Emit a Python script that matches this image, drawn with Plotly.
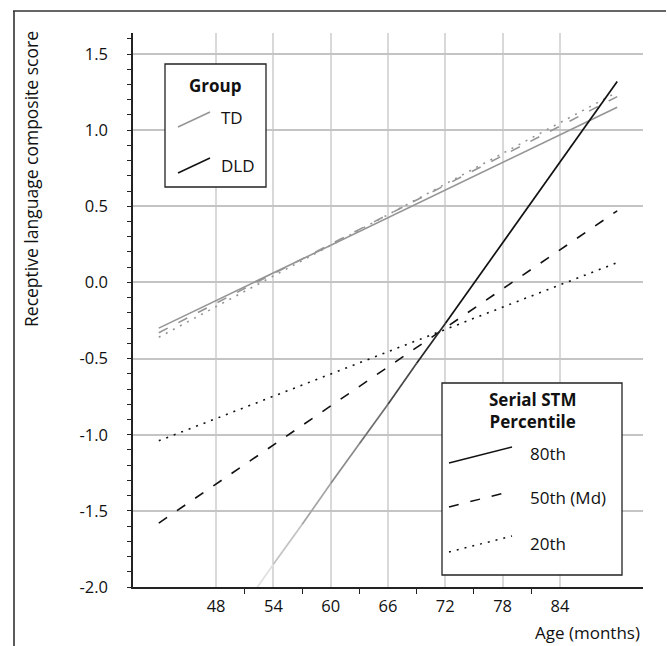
import plotly.graph_objects as go

# ---------------- data ----------------
ages = [42, 90]
td_80 = [-0.30, 1.15]
td_50 = [-0.33, 1.22]
td_20 = [-0.36, 1.25]
dld_50 = [-1.58, 0.47]
dld_20 = [-1.04, 0.13]
# DLD 80th read at several ages (line fades out towards the bottom)
dld80_ages = [42, 51, 54, 57, 60, 63, 66, 69, 72, 90]
dld80_vals = [-2.91, -2.12, -1.85, -1.59, -1.32, -1.06, -0.80, -0.53, -0.27, 1.32]

x_ticks = [48, 54, 60, 66, 72, 78, 84]
x_tick_labels = ["48", "54", "60", "66", "72", "78", "84"]
x_minor_ticks = [51, 57, 63, 69, 75, 81]
y_ticks = [-2.0, -1.5, -1.0, -0.5, 0.0, 0.5, 1.0, 1.5]
y_tick_labels = ["-2.0", "-1.5", "-1.0", "-0.5", "0.0", "0.5", "1.0", "1.5"]

group_labels = ["TD", "DLD"]
pct_labels = ["80th", "50th (Md)", "20th"]

# ---------------- layout geometry ----------------
W, H = 667, 646
L, R, T, B = 133, 643, 33, 587
FONT = "Open Sans"


def px(x):
    return (x - L) / (R - L)


def py(y):
    return (B - y) / (B - T)


GRAY = "#959595"
BLACK = "#111111"
DASH = "10px,12px"
DOT = "2px,6px"

fig = go.Figure()

# TD lines (gray)
for vals, dash in [(td_80, "solid"), (td_50, DASH), (td_20, DOT)]:
    fig.add_trace(go.Scatter(x=ages, y=vals, mode="lines",
                             line=dict(color=GRAY, width=1.6, dash=dash),
                             showlegend=False, hoverinfo="skip"))

# DLD 50th and 20th
for vals, dash in [(dld_50, DASH), (dld_20, DOT)]:
    fig.add_trace(go.Scatter(x=ages, y=vals, mode="lines",
                             line=dict(color=BLACK, width=1.6, dash=dash),
                             showlegend=False, hoverinfo="skip"))

# DLD 80th with a fading colour towards the bottom
fade = ["#f4f4f4", "#e0e0e0", "#c2c2c2", "#a4a4a4", "#8a8a8a",
        "#6e6e6e", "#484848", "#262626", BLACK]
for i in range(len(dld80_ages) - 1):
    fig.add_trace(go.Scatter(x=dld80_ages[i:i + 2], y=dld80_vals[i:i + 2],
                             mode="lines",
                             line=dict(color=fade[i], width=1.7),
                             showlegend=False, hoverinfo="skip"))

shapes = []
annotations = []

# outer frame (top and left edges)
shapes.append(dict(type="line", xref="paper", yref="paper", layer="above",
                   x0=px(13), y0=py(11), x1=px(666), y1=py(11),
                   line=dict(color="#333", width=1.6)))
shapes.append(dict(type="line", xref="paper", yref="paper", layer="above",
                   x0=px(14), y0=py(11), x1=px(14), y1=py(646),
                   line=dict(color="#333", width=1.6)))

LEG_FONT = dict(size=17, color="#111", family=FONT)

# Group legend box
shapes.append(dict(type="rect", xref="paper", yref="paper", layer="above",
                   x0=px(165), x1=px(266), y0=py(187), y1=py(64),
                   fillcolor="white", line=dict(color="#222", width=1.3)))
annotations.append(dict(x=px(215), y=py(85), xref="paper", yref="paper",
                        text="<b>Group</b>", showarrow=False, font=LEG_FONT,
                        xanchor="center", yanchor="middle"))
for (y_line, col, lab, y_txt) in [(127, GRAY, group_labels[0], 118),
                                  (173, BLACK, group_labels[1], 166)]:
    shapes.append(dict(type="line", xref="paper", yref="paper", layer="above",
                       x0=px(178), y0=py(y_line), x1=px(210), y1=py(y_line - 15),
                       line=dict(color=col, width=1.5)))
    annotations.append(dict(x=px(219), y=py(y_txt), xref="paper", yref="paper",
                            text=lab, showarrow=False, font=LEG_FONT,
                            xanchor="left", yanchor="middle"))

# Percentile legend box
shapes.append(dict(type="rect", xref="paper", yref="paper", layer="above",
                   x0=px(442), x1=px(622), y0=py(575), y1=py(383),
                   fillcolor="white", line=dict(color="#222", width=1.3)))
annotations.append(dict(x=px(532), y=py(411), xref="paper", yref="paper",
                        text="<b>Serial STM</b><br><b>Percentile</b>",
                        showarrow=False, font=LEG_FONT,
                        xanchor="center", yanchor="middle"))
for (y_line, dash, lab, y_txt) in [(463, "solid", pct_labels[0], 453),
                                   (507, DASH, pct_labels[1], 497),
                                   (552, DOT, pct_labels[2], 543)]:
    shapes.append(dict(type="line", xref="paper", yref="paper", layer="above",
                       x0=px(449), y0=py(y_line), x1=px(512), y1=py(y_line - 16),
                       line=dict(color=BLACK, width=1.5, dash=dash)))
    annotations.append(dict(x=px(528), y=py(y_txt), xref="paper", yref="paper",
                            text=lab, showarrow=False, font=LEG_FONT,
                            xanchor="left", yanchor="middle"))

# axis titles
annotations.append(dict(x=px(31), y=py(179), xref="paper", yref="paper",
                        text="Receptive language composite score",
                        textangle=-90, showarrow=False,
                        font=dict(size=17.5, color="#111", family=FONT),
                        xanchor="center", yanchor="middle"))
annotations.append(dict(x=px(642), y=py(632), xref="paper", yref="paper",
                        text="Age (months)", showarrow=False, font=LEG_FONT,
                        xanchor="right", yanchor="middle"))

fig.update_layout(
    width=W, height=H,
    margin=dict(l=L, r=W - R, t=T, b=H - B, pad=0),
    paper_bgcolor="white", plot_bgcolor="white",
    font=dict(family=FONT, size=16, color="#111"),
    shapes=shapes, annotations=annotations,
    showlegend=False,
    xaxis=dict(range=[39.3, 92.7], tickmode="array", tickvals=x_ticks,
               ticktext=x_tick_labels, ticks="", showgrid=True,
               gridcolor="#d9d9d9", gridwidth=1.5, zeroline=False,
               showline=True, linecolor="#222", linewidth=1.5,
               ticklabelstandoff=3, tickfont=dict(size=16.5),
               minor=dict(tickmode="array", tickvals=x_minor_ticks,
                          ticks="outside", ticklen=5, tickcolor="#222",
                          tickwidth=1.3, showgrid=False)),
    yaxis=dict(range=[-2.0, 1.638], tickmode="array", tickvals=y_ticks,
               ticktext=y_tick_labels, ticks="outside", ticklen=4,
               tickcolor="#222", tickwidth=1.3, showgrid=True,
               gridcolor="#c4c4c4", gridwidth=1.5, zeroline=False,
               showline=True, linecolor="#222", linewidth=1.5,
               ticklabelstandoff=16, tickfont=dict(size=16.5),
               minor=dict(dtick=0.1, tick0=0, ticks="outside", ticklen=4,
                          tickcolor="#222", tickwidth=1.2, showgrid=False)),
)

fig.write_html("out.html",
               config={"displayModeBar": False},
               post_script="document.body.style.margin='0px';"
                           "document.body.style.overflow='hidden';")
